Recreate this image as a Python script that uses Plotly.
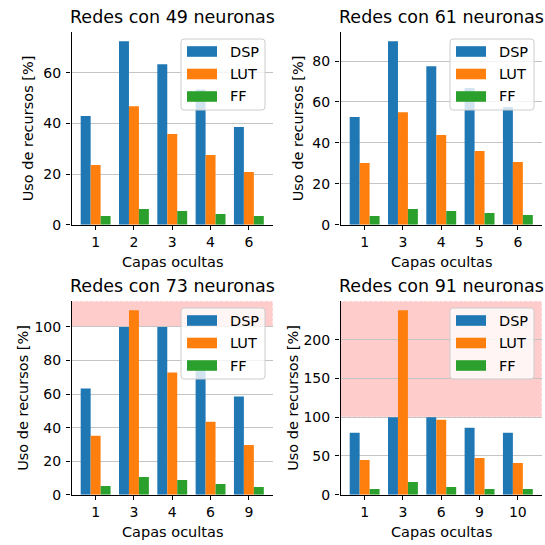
import plotly.graph_objects as go

# Resource usage (%) per number of hidden layers, one panel per network width
series_names = ["DSP", "LUT", "FF"]
series_colors = ["#1f77b4", "#ff7f0e", "#2ca02c"]

layers_49 = ["1", "2", "3", "4", "6"]
dsp_49 = [42.9, 72.5, 63.4, 53.4, 38.6]
lut_49 = [23.6, 46.8, 35.8, 27.5, 20.8]
ff_49 = [3.4, 6.2, 5.4, 4.2, 3.4]

layers_61 = ["1", "3", "4", "5", "6"]
dsp_61 = [52.6, 89.7, 77.5, 66.8, 57.5]
lut_61 = [30.1, 55.0, 43.8, 36.0, 30.6]
ff_61 = [4.2, 7.7, 6.7, 5.7, 4.7]

layers_73 = ["1", "3", "4", "6", "9"]
dsp_73 = [63.3, 100.0, 100.0, 74.5, 58.5]
lut_73 = [35.1, 110.0, 72.9, 43.5, 29.7]
ff_73 = [5.2, 10.6, 8.8, 6.4, 4.6]

layers_91 = ["1", "3", "6", "9", "10"]
dsp_91 = [79.9, 100.0, 100.0, 86.4, 79.9]
lut_91 = [44.9, 238.0, 96.8, 47.5, 41.0]
ff_91 = [7.3, 16.4, 9.9, 7.3, 7.3]

panel_titles = ["Redes con 49 neuronas", "Redes con 61 neuronas",
                "Redes con 73 neuronas", "Redes con 91 neuronas"]
panel_ticks = [[0, 20, 40, 60], [0, 20, 40, 60, 80],
               [0, 20, 40, 60, 80, 100], [0, 50, 100, 150, 200]]
overflow_limit = 100.0
x_label = "Capas ocultas"
y_label = "Uso de recursos [%]"

panels = [
    (layers_49, [dsp_49, lut_49, ff_49]),
    (layers_61, [dsp_61, lut_61, ff_61]),
    (layers_73, [dsp_73, lut_73, ff_73]),
    (layers_91, [dsp_91, lut_91, ff_91]),
]

W = H = 545
FONT = "DejaVu Sans"
TEXT_SIZE = 14.5
TITLE_SIZE = 17.5


def fx(p):
    return p / W


def fy(p):
    return 1 - p / H


# plot-area boxes in pixels: (left, right, top, bottom)
boxes = [
    (71.5, 273.0, 32.0, 224.7),
    (340.5, 542.0, 32.0, 224.7),
    (71.5, 273.0, 301.0, 494.7),
    (340.5, 542.0, 301.0, 494.7),
]
ylabel_x = [28, 298, 23, 293]

fig = go.Figure()
layout = dict(
    width=W, height=H,
    margin=dict(l=0, r=0, t=0, b=0, autoexpand=False),
    paper_bgcolor="white", plot_bgcolor="white",
    barmode="group", bargap=0.22, bargroupgap=0,
    showlegend=False,
    font=dict(family=FONT, size=TEXT_SIZE, color="black"),
)
shapes = []
annotations = []

for i, ((cats, values), title, ticks, box) in enumerate(
        zip(panels, panel_titles, panel_ticks, boxes)):
    n = i + 1
    xa = "x" if n == 1 else f"x{n}"
    ya = "y" if n == 1 else f"y{n}"
    left, right, top, bottom = box
    ymax = 1.05 * max(max(v) for v in values)

    for name, color, vals in zip(series_names, series_colors, values):
        fig.add_trace(go.Bar(x=cats, y=vals, name=name, marker_color=color,
                             marker_line_width=0, xaxis=xa, yaxis=ya,
                             offsetgroup=name))

    layout["xaxis" if n == 1 else f"xaxis{n}"] = dict(
        domain=[fx(left), fx(right)], anchor=ya, type="category",
        range=[-0.63, len(cats) - 1 + 0.63], automargin=False,
        showline=True, linecolor="black", linewidth=1.1,
        ticks="outside", ticklen=4.5, tickwidth=1.1, tickcolor="black",
        showgrid=False, zeroline=False,
        tickfont=dict(family=FONT, size=14, color="black"),
    )
    layout["yaxis" if n == 1 else f"yaxis{n}"] = dict(
        domain=[fy(bottom), fy(top)], anchor=xa, automargin=False,
        range=[0, ymax], tickvals=ticks,
        showline=True, linecolor="black", linewidth=1.1,
        ticks="outside", ticklen=4.5, tickwidth=1.1, tickcolor="black",
        ticklabelstandoff=2,
        showgrid=True, gridcolor="#c4c4c4", gridwidth=1.1,
        zeroline=False,
        tickfont=dict(family=FONT, size=14, color="black"),
    )

    # shaded band marking usage above 100 %
    if ymax > overflow_limit:
        shapes.append(dict(
            type="rect", xref=f"{xa} domain", yref=ya,
            x0=0, x1=1, y0=overflow_limit, y1=ymax,
            fillcolor="rgba(255,0,0,0.2)", layer="below",
            line=dict(color="white", width=1, dash="3px,2px"),
        ))

    # title and axis labels
    annotations.append(dict(
        text=title, xref="paper", yref="paper",
        x=fx((left + right) / 2), y=fy(top - 15),
        xanchor="center", yanchor="middle", showarrow=False,
        font=dict(family=FONT, size=TITLE_SIZE, color="black"),
    ))
    annotations.append(dict(
        text=x_label, xref="paper", yref="paper",
        x=fx((left + right) / 2), y=fy(bottom + 37.5),
        xanchor="center", yanchor="middle", showarrow=False,
        font=dict(family=FONT, size=TEXT_SIZE, color="black"),
    ))
    annotations.append(dict(
        text=y_label, xref="paper", yref="paper", textangle=-90,
        x=fx(ylabel_x[i]), y=fy((top + bottom) / 2),
        xanchor="center", yanchor="middle", showarrow=False,
        font=dict(family=FONT, size=TEXT_SIZE, color="black"),
    ))

    # legend box in the upper right corner
    bw, bh, r = 84.0, 71.0, 3.0
    bx1 = right - 8
    bx0 = bx1 - bw
    by0 = top + 7
    by1 = by0 + bh
    path = (
        f"M {fx(bx0 + r)} {fy(by0)} L {fx(bx1 - r)} {fy(by0)} "
        f"Q {fx(bx1)} {fy(by0)} {fx(bx1)} {fy(by0 + r)} "
        f"L {fx(bx1)} {fy(by1 - r)} "
        f"Q {fx(bx1)} {fy(by1)} {fx(bx1 - r)} {fy(by1)} "
        f"L {fx(bx0 + r)} {fy(by1)} "
        f"Q {fx(bx0)} {fy(by1)} {fx(bx0)} {fy(by1 - r)} "
        f"L {fx(bx0)} {fy(by0 + r)} "
        f"Q {fx(bx0)} {fy(by0)} {fx(bx0 + r)} {fy(by0)} Z"
    )
    shapes.append(dict(
        type="path", xref="paper", yref="paper", path=path,
        fillcolor="rgba(255,255,255,0.8)", layer="above",
        line=dict(color="#cccccc", width=1),
    ))
    for k, (name, color) in enumerate(zip(series_names, series_colors)):
        cy = by0 + 12.5 + 22.5 * k
        shapes.append(dict(
            type="rect", xref="paper", yref="paper", layer="above",
            x0=fx(bx0 + 6), x1=fx(bx0 + 36),
            y0=fy(cy + 5.3), y1=fy(cy - 5.3),
            fillcolor=color, line=dict(width=0),
        ))
        annotations.append(dict(
            text=name, xref="paper", yref="paper",
            x=fx(bx0 + 47), y=fy(cy),
            xanchor="left", yanchor="middle", showarrow=False,
            font=dict(family=FONT, size=TEXT_SIZE, color="black"),
        ))

layout["shapes"] = shapes
layout["annotations"] = annotations
fig.update_layout(**layout)
fig.write_html("out.html")
